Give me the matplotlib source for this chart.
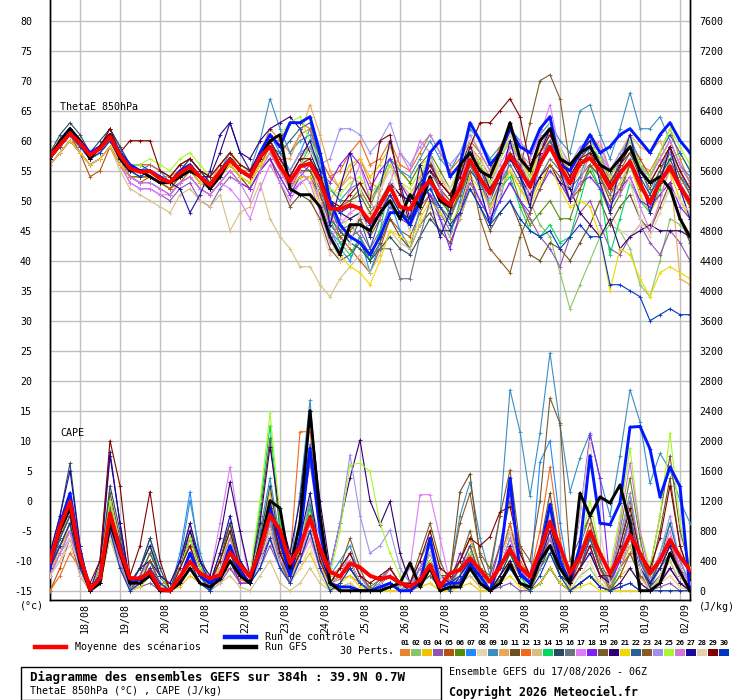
import numpy as np
import matplotlib
matplotlib.use("Agg")
import matplotlib.pyplot as plt
from matplotlib.lines import Line2D
from matplotlib.patches import Rectangle

plt.rcParams['font.family'] = ['DejaVu Sans Mono', 'DejaVu Sans']

# ---------------- data ----------------
step_hours = 6
n_steps = 65
date_labels = ['18/08', '19/08', '20/08', '21/08', '22/08', '23/08', '24/08', '25/08',
               '26/08', '27/08', '28/08', '29/08', '30/08', '31/08', '01/09', '02/09']
left_ticks = list(range(-15, 81, 5))
right_ticks = list(range(0, 7601, 400))

mean_theta = [57.3,59.3,61.2,59.6,57.6, 58.7,60.7,57.6,55.4,54.8, 54.9,53.7,53.1,54.6,55.7,
              54.0,52.6,54.8,56.8,55.1, 54.0,57.3,59.0,55.7,53.2, 55.7,56.2,53.2,48.7,48.6,
              49.3,48.7,46.5,49.3,52.3, 49.0,48.6,51.5,53.4,50.7, 49.3,52.1,56.8,53.7,51.2,
              54.6,57.6,55.1,52.3,56.2, 59.0,55.7,52.9,56.2,57.1, 55.1,52.1,54.6,56.5,52.9,
              49.6,53.1,55.7,52.3,49.8]
ctrl_theta = [57,60,62,60,58, 59,61,58,56,55, 55,54,53,55,56, 54,52,55,57,55, 54,58,61,59,63,
              63,64,58,50,46, 44,43,41,44,48, 48,46,50,58,60, 54,56,63,60,56, 58,62,59,58,62,
              64,56,55,58,61, 58,59,61,62,60, 58,61,63,60,58]
gfs_theta = [57,60,62,60,57, 59,61,57,55,55, 54,53,53,54,55, 54,52,54,57,55, 54,57,60,61,52,
             51,51,49,44,41, 46,46,45,48,50, 47,51,49,54,50, 49,56,58,55,54, 58,63,57,55,60,
             62,57,56,58,59, 56,55,57,59,55, 53,54,52,47,44]

mean_cape = [387,853,1187,453, 20,165,1030,543, 165,165,253,20, 0,187,387,232, 165,209,507,343,
             187,543,1009,809, 365,587,965,565, 254,187,365,310, 200,152,187,107, 53,143,343,53,
             232,276,432,276, 120,320,552,320, 187,543,920,587, 232,454,787,498, 232,454,743,498,
             232,409,676,454, 276]
ctrl_cape = [300,900,1300,500, 0,200,1000,600, 100,150,250,0, 0,150,500,200, 100,200,600,250,
             100,500,1100,700, 200,700,1900,800, 100,50,50,0, 0,50,100,0, 0,100,700,50,
             100,100,350,200, 0,400,1500,230, 100,500,1150,400, 100,600,1800,900, 880,1170,2180,2190,
             1890,1250,1650,1390, 0]
gfs_cape = [400,800,1100,400, 0,100,900,500, 100,100,200,0, 0,100,300,100, 50,150,400,200,
            100,600,1200,1100, 300,900,2400,1000, 100,0,0,0, 0,0,50,100, 370,50,300,0,
            50,50,300,100, 0,100,350,100, 50,400,600,300, 100,1300,1000,1250, 1170,1410,900,0,
            0,100,500,250, 0]

th01 = [58,60,62,60,58, 59,61,58,56,55, 55,54,54,55,57, 55,53,56,58,55, 55,58,62,60,58, 61,62,57,54,52, 55,57,53,52,56, 53,50,54,56,52, 50,54,59,57,54, 57,61,58,55,59, 62,58,55,57,60, 58,53,56,59,56, 55,58,62,57,53]
th02 = [57,59,61,59,57, 58,60,57,55,54, 54,53,52,54,55, 53,52,54,56,54, 53,56,58,55,52, 55,55,52,48,46, 47,48,45,48,51, 48,47,51,53,50, 48,51,56,53,49, 53,55,52,50,46, 44,38,32,36,40, 44,46,45,42,36, 34,40,47,46,44]
th03 = [56,58,60,59,57, 58,60,56,54,54, 54,53,52,54,56, 54,52,54,56,54, 52,55,60,57,54, 57,59,55,50,53, 56,57,54,56,59, 55,53,56,57,53, 51,55,60,58,55, 58,60,57,54,59, 61,57,53,55,57, 54,51,53,56,51, 48,51,55,50,47]
th04 = [56,58,60,58,56, 57,59,56,53,52, 52,51,50,52,53, 50,49,52,54,53, 52,55,57,54,51, 53,54,50,45,43, 44,45,42,45,49, 47,46,49,51,48, 45,48,53,50,47, 50,53,50,47,44, 42,39,44,48,50, 46,42,41,44,46, 43,41,45,43,40]
th05 = [57,60,61,58,54, 55,59,56,54,53, 54,53,52,53,55, 53,52,54,56,54, 53,56,59,56,53, 56,57,54,48,44, 42,40,38,42,47, 45,44,48,51,49, 47,52,58,56,53, 57,60,57,54,57, 60,57,54,57,59, 57,54,57,60,57, 54,57,60,56,53]
th06 = [57,59,61,59,57, 58,61,58,55,55, 55,54,53,55,56, 54,53,55,57,55, 54,57,60,57,55, 58,59,56,52,50, 50,52,49,53,57, 55,53,56,58,55, 52,55,58,55,52, 53,55,50,46,48, 50,47,47,52,55, 52,48,51,56,52, 50,54,58,54,52]
th07 = [57,59,61,60,58, 59,61,58,56,55, 56,55,53,55,57, 55,53,55,58,56, 55,58,61,58,55, 58,62,56,45,42, 40,44,38,43,50, 45,42,49,53,47, 44,50,56,52,46, 50,57,55,49,56, 60,55,50,54,59, 57,52,57,61,56, 51,55,59,55,51]
th08 = [57,60,62,60,58, 59,61,57,55,54, 54,53,52,54,55, 53,52,54,56,54, 53,55,57,54,51, 54,51,46,41,44, 48,52,47,51,56, 52,48,54,57,52, 50,55,62,58,52, 57,61,58,53,57, 60,57,55,58,57, 54,48,45,44,46, 46,49,52,50,48]
th09 = [58,60,62,60,58, 59,62,59,56,56, 56,55,54,56,57, 55,54,56,58,56, 55,60,67,62,58, 60,61,56,52,50, 52,53,50,53,57, 55,54,57,60,57, 55,58,62,60,57, 59,62,60,57,61, 63,60,58,65,66, 61,57,62,68,62, 62,64,60,56,54]
th10 = [57,59,61,60,58, 59,61,58,55,55, 55,54,53,55,56, 54,53,55,57,55, 54,57,59,57,57, 61,66,61,55,52, 54,53,50,52,56, 53,51,54,57,54, 51,54,59,56,53, 57,60,56,53,58, 61,58,55,58,61, 59,55,58,61,59, 58,60,56,37,36]
th11 = [57,59,61,59,57, 58,60,57,54,54, 54,53,52,54,55, 53,52,54,56,54, 52,55,57,53,49, 51,50,47,42,40, 41,43,40,43,47, 44,42,46,48,45, 43,47,52,49,45, 48,50,46,41,40, 43,42,40,43,46, 50,46,49,51,47, 45,49,53,47,43]
th12 = [57,60,62,60,58, 59,62,58,56,56, 56,55,54,56,57, 55,54,56,58,56, 55,58,60,60,63, 63,62,57,54,55, 58,60,56,57,60, 56,55,58,61,58, 55,57,60,58,55, 59,62,58,55,58, 60,57,55,58,59, 56,53,56,59,55, 53,56,59,55,52]
th13 = [56,58,60,58,56, 57,59,55,52,51, 50,49,48,51,52, 50,49,51,45,48, 49,53,47,44,42, 39,39,36,34,37, 39,41,38,41,45, 43,42,46,49,47, 44,47,52,50,47, 51,55,53,50,54, 57,55,52,55,56, 54,50,53,56,52, 50,53,56,52,49]
th14 = [57,59,61,59,57, 58,60,57,55,54, 55,54,53,55,56, 54,53,55,57,55, 54,57,59,56,53, 56,59,55,47,43, 41,44,40,45,53, 49,45,52,57,52, 47,51,58,55,49, 52,54,49,45,44, 46,43,44,50,56, 52,41,47,53,50, 48,52,57,58,55]
th15 = [58,61,63,61,58, 60,62,59,56,56, 55,54,53,55,57, 55,53,55,57,55, 54,57,60,56,52, 54,54,51,47,45, 43,42,40,42,44, 42,41,44,47,45, 45,49,55,53,50, 54,57,55,52,56, 59,56,53,56,58, 55,52,56,58,54, 51,54,57,53,50]
th16 = [57,59,61,59,57, 58,60,57,55,54, 54,53,53,55,56, 54,53,55,57,55, 54,57,59,56,53, 56,55,52,47,45, 46,44,41,42,42, 37,37,44,50,49, 47,51,56,53,49, 53,56,53,50,54, 57,55,52,54,56, 54,51,54,57,53, 50,53,56,52,50]
th17 = [56,58,60,58,56, 57,59,56,53,52, 52,51,51,53,54, 52,51,53,52,50, 47,52,56,53,50, 53,54,50,47,46, 48,49,46,48,51, 49,47,52,55,53, 51,54,58,55,53, 56,59,60,57,61, 66,58,54,57,60, 58,54,57,60,56, 54,57,60,56,53]
th18 = [56,58,60,58,56, 57,59,56,54,53, 53,52,51,53,54, 52,51,53,55,53, 52,55,57,54,51, 54,56,55,53,56, 58,56,52,55,57, 53,50,53,51,47, 42,48,54,50,47, 50,53,50,48,52, 55,53,50,53,54, 52,49,52,54,50, 49,51,53,49,47]
th19 = [57,59,61,59,57, 58,60,57,55,55, 55,54,53,55,56, 54,53,55,57,55, 54,57,59,56,53, 56,57,54,50,49, 50,51,48,50,53, 51,50,53,55,52, 50,53,57,54,52, 55,58,55,63,70, 71,67,56,56,58, 55,52,55,58,55, 52,55,58,54,51]
th20 = [57,59,61,59,57, 58,60,57,55,55, 55,54,53,55,56, 54,54,58,63,58, 57,60,62,63,64, 62,58,54,50,48, 47,48,46,49,53, 51,50,53,55,53, 51,54,58,56,52, 55,57,54,51,54, 56,53,52,48,46, 44,47,42,44,45, 46,45,45,45,44]
th21 = [56,58,60,58,56, 57,59,56,54,54, 54,53,52,54,55, 53,52,54,56,54, 53,56,58,55,52, 54,54,49,44,41, 39,38,36,40,45, 44,43,47,50,48, 46,49,54,52,49, 52,55,52,49,53, 56,52,49,50,49, 44,35,42,41,37, 34,38,39,38,37]
th22 = [57,59,61,60,58, 59,61,58,55,55, 55,54,53,55,56, 54,53,55,57,55, 54,57,59,58,60, 62,63,57,49,45, 43,47,42,47,53, 49,46,53,57,52, 48,53,59,56,50, 55,58,56,53,57, 60,57,54,57,59, 57,54,57,60,56, 54,58,61,58,55]
th23 = [57,59,61,59,57, 58,60,57,54,54, 54,53,52,54,56, 54,53,55,57,55, 54,57,59,56,52, 55,55,51,46,44, 45,47,44,47,51, 48,47,51,54,50, 48,51,55,47,42, 40,38,44,48,52, 56,54,50,52,56, 54,50,52,56,52, 50,53,55,52,49]
th24 = [57,59,61,59,57, 58,60,57,55,55, 55,54,53,55,56, 54,53,55,57,55, 54,57,59,57,55, 58,59,56,57,62, 62,61,58,60,63, 58,56,59,61,58, 56,58,61,58,55, 57,60,58,56,59, 62,59,56,59,60, 58,55,58,60,56, 53,56,58,55,52]
th25 = [58,60,62,60,58, 59,61,58,56,56, 57,56,55,57,58, 56,54,56,58,56, 55,58,60,61,63, 64,60,57,52,51, 53,54,51,53,56, 53,52,55,57,54, 52,55,59,56,53, 57,60,57,54,58, 61,58,55,58,60, 57,54,57,60,56, 54,58,62,59,56]
th26 = [57,59,61,59,57, 58,60,57,54,53, 53,52,51,53,54, 52,51,53,55,53, 50,55,58,55,52, 55,53,48,43,47, 52,56,50,47,53, 58,55,60,58,52, 49,53,59,55,48, 52,59,57,50,56, 62,57,50,53,58, 60,55,51,54,49, 45,50,56,53,50]
th27 = [57,60,61,60,58, 59,61,57,55,55, 55,54,53,52,48, 51,55,61,63,58, 55,58,60,57,54, 57,60,55,46,52, 58,50,44,52,60, 53,47,56,50,44, 48,55,60,52,46, 53,60,54,49,58, 62,55,50,58,60, 53,48,56,61,54, 48,53,59,52,47]
th28 = [57,59,61,59,57, 58,60,57,55,55, 55,54,53,55,56, 54,53,55,57,55, 54,57,60,57,53, 56,58,50,44,40, 43,48,45,52,55, 49,45,50,57,54, 52,56,60,55,50, 57,62,58,52,59, 63,59,55,57,58, 56,53,56,53,47, 44,48,52,50,48]
th29 = [58,60,62,60,58, 59,62,58,60,60, 60,55,54,56,57, 55,54,56,58,56, 55,58,60,57,54, 57,57,54,50,49, 51,53,50,60,61, 52,46,52,56,53, 51,54,59,63,63, 65,67,64,56,58, 61,57,54,57,58, 56,53,56,59,55, 53,56,59,55,52]
th30 = [57,59,61,59,57, 58,60,57,55,54, 55,54,53,55,56, 54,53,55,57,55, 54,57,59,56,53, 56,56,53,49,48, 49,49,46,48,51, 48,47,50,52,49, 46,48,52,49,46, 48,50,47,45,44, 45,42,44,46,44, 44,36,36,35,34, 30,31,32,31,31]

cape01 = [300,700,1100,400, 0,150,900,450, 50,150,300,100, 0,150,400,200, 100,200,300,150, 100,500,900,600, 200,400,700,300, 100,150,200,100, 0,50,100,50, 0,100,300,100, 50,300,600,200, 0,200,400,200, 100,400,800,300, 50,300,500,200, 100,500,900,400, 100,300,600,300, 100]
cape02 = [400,900,1200,300, 0,100,1000,500, 0,100,200,50, 0,100,300,100, 0,300,600,200, 100,600,1200,500, 100,500,900,400, 50,100,300,100, 0,100,200,50, 0,200,400,100, 0,100,200,50, 0,300,500,200, 50,500,1000,300, 0,200,300,100, 0,300,600,200, 0,200,400,100, 50]
cape03 = [200,600,900,300, 0,100,800,300, 100,300,600,200, 0,50,200,100, 0,400,700,300, 200,800,1300,600, 100,300,500,200, 0,50,100,0, 0,0,0,0, 0,100,200,50, 0,50,100,0, 0,150,300,100, 0,400,700,200, 0,100,200,100, 0,200,300,100, 0,100,200,50, 0]
cape04 = [300,600,800,200, 0,200,1200,600, 0,50,100,0, 0,200,500,200, 0,100,300,100, 100,300,600,300, 200,900,1700,800, 100,200,300,100, 0,50,100,0, 0,100,200,50, 0,150,300,100, 0,50,100,0, 0,100,300,100, 0,100,200,50, 0,50,100,0, 0,50,100,0, 0]
cape05 = [0,300,700,200, 0,150,1100,500, 0,100,200,100, 0,300,600,200, 50,200,400,100, 100,400,800,400, 100,600,1200,500, 100,200,400,100, 0,50,100,0, 0,100,300,100, 0,200,500,200, 0,200,400,100, 0,300,600,200, 100,500,900,300, 50,300,500,200, 50,400,700,200, 100]
cape06 = [300,700,1000,300, 0,100,900,400, 0,200,400,100, 0,100,300,100, 0,200,500,200, 100,500,1000,500, 200,400,800,300, 100,300,500,200, 50,150,300,100, 0,100,200,50, 100,400,700,300, 0,150,300,100, 50,300,500,200, 100,300,600,200, 100,800,1500,700, 100,400,700,300, 100]
cape07 = [400,900,1300,500, 0,200,1100,600, 0,200,500,200, 0,500,1320,400, 0,300,600,200, 100,500,1000,400, 200,1000,1950,800, 100,300,500,200, 0,100,200,100, 0,300,600,200, 50,200,400,150, 0,400,800,300, 100,1720,2000,900, 100,400,700,300, 100,500,900,400, 50,300,500,200, 50]
cape08 = [200,400,600,200, 0,100,800,400, 0,50,200,50, 0,300,600,300, 100,500,900,300, 100,400,700,300, 100,300,600,200, 0,100,300,100, 0,50,100,0, 0,400,800,300, 0,100,300,100, 0,100,300,100, 100,500,900,400, 0,200,400,100, 0,100,300,100, 0,100,200,50, 0]
cape09 = [300,800,1100,400, 0,200,1000,500, 50,300,700,200, 0,400,1200,500, 100,400,800,300, 200,800,1500,700, 300,1300,2540,1000, 200,400,600,200, 0,150,300,100, 100,400,700,200, 200,1000,1450,700, 200,1000,2680,2120, 1260,2100,3170,2210, 1320,1770,2100,1500, 1000,1800,2680,2250, 1430,1830,1610,1200, 900]
cape10 = [200,600,900,300, 0,200,800,400, 0,100,300,100, 0,200,500,200, 0,200,400,100, 100,400,700,300, 200,600,1100,400, 100,200,300,100, 0,100,200,50, 0,200,400,100, 100,400,700,300, 0,300,600,200, 100,400,700,300, 50,300,500,200, 0,300,600,200, 0,150,300,100, 0]
cape11 = [300,700,1000,400, 0,300,1300,700, 100,300,600,200, 0,300,700,300, 100,500,900,400, 200,1000,2030,800, 200,600,1200,400, 100,200,400,100, 0,100,200,50, 0,200,500,200, 200,1320,1560,450, 100,400,900,300, 100,600,1300,500, 100,300,600,200, 100,500,1000,400, 200,800,1500,600, 200]
cape12 = [0,200,500,300, 0,200,1000,500, 0,100,300,100, 100,400,900,300, 0,300,500,200, 200,600,1200,600, 400,2120,2120,900, 200,300,400,100, 0,100,300,100, 0,200,500,200, 100,300,600,200, 100,400,900,400, 200,800,1650,700, 100,400,800,300, 200,500,1000,400, 100,300,600,200, 100]
cape13 = [200,500,800,300, 0,100,900,400, 0,50,200,50, 0,100,300,100, 0,100,200,50, 0,200,400,100, 0,100,300,100, 0,50,100,0, 0,0,0,0, 0,50,100,0, 0,100,200,50, 0,300,600,200, 100,500,900,400, 100,300,600,200, 0,200,500,200, 0,200,400,100, 50]
cape14 = [400,800,1200,500, 0,200,1100,500, 0,200,500,200, 0,300,600,200, 0,300,700,300, 200,1100,2200,900, 200,500,1100,500, 100,200,400,100, 0,100,200,50, 0,100,300,100, 0,200,400,100, 0,200,500,200, 0,100,300,100, 0,100,200,50, 0,300,700,300, 100,500,900,400, 100]
cape15 = [500,1000,1700,600, 0,300,1400,800, 100,300,700,300, 0,400,800,300, 100,400,900,300, 100,700,1400,600, 200,500,1000,400, 100,200,300,100, 0,50,100,0, 0,100,300,100, 0,200,400,200, 0,200,500,200, 100,300,600,200, 100,300,700,300, 100,400,800,300, 50,200,500,200, 50]
cape16 = [300,600,900,300, 0,100,700,300, 0,100,300,100, 0,200,500,200, 0,200,500,200, 100,500,900,400, 100,400,800,300, 100,200,300,100, 0,0,100,0, 0,100,200,50, 100,300,500,200, 100,400,800,300, 100,300,700,300, 200,600,1000,400, 100,600,1200,500, 100,300,500,200, 0]
cape17 = [200,400,700,300, 0,100,800,400, 0,200,400,100, 0,300,600,200, 200,900,1650,800, 100,500,900,400, 100,400,700,300, 100,200,400,100, 0,100,300,100, 300,1280,1280,700, 100,300,500,200, 0,400,800,300, 100,500,1000,400, 100,300,600,200, 100,500,900,400, 100,400,700,300, 100]
cape18 = [200,500,800,300, 0,100,900,400, 0,100,300,100, 0,200,400,100, 0,200,400,100, 100,400,700,300, 100,500,900,400, 100,200,300,100, 0,100,200,50, 0,200,400,200, 100,500,300,100, 100,600,1300,500, 200,400,700,300, 200,1000,2080,1500, 100,400,800,300, 0,100,300,100, 0]
cape19 = [300,700,1000,400, 0,200,1100,500, 0,200,500,200, 0,300,700,300, 100,400,800,300, 100,600,1100,500, 200,600,1200,500, 100,300,700,300, 0,100,300,100, 100,500,900,400, 100,400,800,300, 200,600,1200,600, 400,1200,2570,2230, 400,700,1000,500, 200,700,1300,500, 300,1000,1800,800, 300]
cape20 = [300,800,1100,500, 0,300,1800,900, 100,300,400,200, 0,300,800,400, 200,700,1450,800, 200,900,1920,1000, 500,1200,2390,1200, 300,900,1500,2010, 1200,880,1190,500, 100,300,600,200, 100,200,500,200, 0,200,400,100, 0,100,300,100, 0,100,200,50, 0,100,300,100, 0,100,300,100, 0]
cape21 = [200,500,900,300, 0,100,700,300, 0,50,200,50, 0,200,400,100, 0,300,600,200, 100,400,800,300, 100,500,1000,400, 0,100,200,50, 0,0,0,0, 0,50,100,0, 0,100,300,100, 0,100,200,50, 0,100,300,100, 0,50,100,0, 0,0,0,0, 0,0,0,0, 0]
cape22 = [300,700,1000,400, 0,200,1000,500, 0,100,400,100, 0,300,600,200, 0,200,500,200, 100,500,1000,400, 200,600,1200,500, 100,200,400,100, 0,100,200,50, 0,200,400,100, 100,300,600,200, 100,300,700,300, 100,400,900,300, 100,300,700,300, 100,500,1000,400, 100,400,900,400, 100]
cape23 = [300,600,900,300, 0,200,1000,400, 0,100,400,100, 0,200,500,200, 100,300,600,200, 100,400,900,400, 100,500,1000,400, 100,200,300,100, 0,100,200,100, 0,100,300,100, 200,900,1300,500, 300,1000,1610,600, 100,400,700,300, 100,400,800,300, 0,200,500,200, 100,300,600,200, 50]
cape24 = [200,500,700,300, 0,100,800,400, 0,100,300,100, 0,200,500,200, 100,300,600,200, 100,500,900,400, 200,600,1200,700, 300,900,1810,1000, 500,600,810,300, 100,200,500,200, 100,200,400,100, 100,300,600,200, 100,300,700,300, 100,300,500,200, 200,700,1300,500, 200,500,1000,400, 100]
cape25 = [400,800,1100,400, 0,300,1200,600, 100,300,600,200, 0,300,700,300, 100,400,800,300, 200,1200,2370,1000, 200,600,1300,500, 200,800,1680,1700, 1590,900,500,200, 0,200,400,100, 100,200,500,200, 100,400,800,300, 200,500,1000,400, 200,600,1200,500, 300,1000,1900,800, 300,1000,2100,900, 300]
cape26 = [200,500,800,300, 0,100,900,400, 0,100,300,100, 0,200,500,200, 100,300,700,300, 100,400,800,300, 100,400,900,400, 100,200,500,200, 0,100,300,100, 100,300,600,200, 100,200,400,100, 100,300,700,300, 100,400,800,300, 100,300,600,200, 200,900,1700,800, 200,400,800,300, 100]
cape27 = [500,1000,1600,600, 0,400,1850,900, 100,300,600,200, 100,400,900,400, 100,500,1000,400, 200,600,1200,500, 200,700,1300,500, 100,200,400,100, 0,100,200,100, 0,200,500,200, 100,200,400,100, 100,300,600,200, 100,400,800,300, 100,300,500,200, 100,300,700,300, 100,300,600,200, 50]
cape28 = [200,400,700,300, 0,100,700,300, 0,100,300,100, 0,300,600,200, 100,300,600,200, 100,400,800,300, 100,500,900,400, 100,200,400,100, 0,100,200,50, 0,200,500,200, 50,200,300,100, 100,400,800,300, 200,500,1000,500, 300,1000,2000,800, 100,300,700,300, 0,200,500,200, 0]
cape29 = [400,800,1100,500, 100,400,2000,1400, 200,600,1320,400, 0,300,600,200, 100,400,800,300, 100,600,1100,500, 200,500,1000,400, 100,300,500,200, 100,200,300,100, 100,400,800,300, 200,400,700,600, 720,1050,1120,500, 200,500,900,400, 100,300,600,200, 200,600,1100,500, 300,700,1400,600, 200]
cape30 = [300,600,900,300, 0,100,800,300, 0,100,300,100, 0,200,400,100, 0,200,500,200, 100,300,700,300, 100,400,800,300, 0,100,300,100, 0,50,100,0, 0,100,300,100, 0,200,400,100, 0,100,300,100, 0,200,500,200, 0,100,200,50, 0,50,100,0, 0,0,0,0, 0]

pert_colors = ['#e8832f', '#8ac46a', '#f2c200', '#8b55b0', '#b4520e', '#5a8a0a', '#1e8cff',
               '#e6d6b0', '#3a8fc0', '#e8a855', '#6b5020', '#f06a1e', '#d4c080', '#00d860',
               '#284a60', '#687480', '#e07cf8', '#8020f8', '#7a5c2c', '#300070', '#f0d800',
               '#2a6098', '#8c5a20', '#a090f0', '#a8f830', '#d478d8', '#1c0aa0', '#e2d0b0',
               '#800000', '#0036c0']

theta_members = [th01, th02, th03, th04, th05, th06, th07, th08, th09, th10, th11, th12, th13, th14, th15,
                 th16, th17, th18, th19, th20, th21, th22, th23, th24, th25, th26, th27, th28, th29, th30]
cape_members = [cape01, cape02, cape03, cape04, cape05, cape06, cape07, cape08, cape09, cape10,
                cape11, cape12, cape13, cape14, cape15, cape16, cape17, cape18, cape19, cape20,
                cape21, cape22, cape23, cape24, cape25, cape26, cape27, cape28, cape29, cape30]

# ---------------- figure ----------------
W, H = 740, 700
fig = plt.figure(figsize=(W / 100, H / 100), dpi=100)
fig.patch.set_facecolor('white')

def fx(px):
    return px / W

def fy(py):
    return 1 - py / H

ax = fig.add_axes([fx(50), fy(600), fx(640), 600 / H])
ax2 = ax.twinx()

hours = np.arange(n_steps) * step_hours
theta_lo, theta_hi = -16.55, 83.45
ax.set_xlim(0, hours[-1])
ax.set_ylim(theta_lo, theta_hi)
ax2.set_ylim((theta_lo + 15) * 80, (theta_hi + 15) * 80)

mk = dict(marker='+', ms=3.5, mew=0.6)
for th, cp, col in zip(theta_members, cape_members, pert_colors):
    ax.plot(hours, th, color=col, lw=0.8, zorder=3, **mk)
    ax2.plot(hours, cp, color=col, lw=0.8, zorder=3, **mk)

ax.plot(hours, ctrl_theta, color='#0018ff', lw=2.1, zorder=4, **mk)
ax.plot(hours, gfs_theta, color='black', lw=2.1, zorder=4, **mk)
ax.plot(hours, mean_theta, color='#ff0000', lw=2.8, zorder=5, **mk)
ax2.plot(hours, ctrl_cape, color='#0018ff', lw=2.1, zorder=4, **mk)
ax2.plot(hours, gfs_cape, color='black', lw=2.1, zorder=4, **mk)
ax2.plot(hours, mean_cape, color='#ff0000', lw=2.8, zorder=5, **mk)

# ticks & grid
day_ticks = 18 + 24 * np.arange(len(date_labels))
ax.set_xticks(day_ticks)
ax.set_xticklabels(date_labels, rotation=90, ha='left', va='top', fontsize=7.2)
ax.set_yticks(left_ticks)
ax.set_yticklabels([str(v) for v in left_ticks], fontsize=7.2)
ax2.set_yticks(right_ticks)
ax2.set_yticklabels([str(v) for v in right_ticks], fontsize=7.2)
ax.tick_params(axis='x', length=0, pad=2)
ax.tick_params(axis='y', length=0, pad=13)
ax2.tick_params(axis='y', length=0, pad=7)
ax.grid(True, color='#c0c0c0', lw=1.0)
ax.set_axisbelow(True)
for a in (ax, ax2):
    a.spines['top'].set_visible(False)
    for s in ('left', 'right', 'bottom'):
        a.spines[s].set_linewidth(1.0)
        a.spines[s].set_color('black')

ax.text(6, 65.6, 'ThetaE 850hPa', fontsize=7.2, va='center', ha='left', zorder=6)
ax.text(6, 11.3, 'CAPE', fontsize=7.2, va='center', ha='left', zorder=6)

fig.text(fx(20), fy(606), '(°c)', fontsize=7.2, va='center', ha='left')
fig.text(fx(699), fy(607), '(J/kg)', fontsize=7.2, va='center', ha='left')

# legend
fig.add_artist(Line2D([fx(35), fx(66)], [fy(647), fy(647)], color='#ff0000', lw=3.2))
fig.text(fx(75), fy(647), 'Moyenne des scénarios', fontsize=7.2, va='center', ha='left')
fig.add_artist(Line2D([fx(225), fx(256)], [fy(637), fy(637)], color='#0018ff', lw=3.2))
fig.text(fx(265), fy(637), 'Run de contrôle', fontsize=7.2, va='center', ha='left')
fig.add_artist(Line2D([fx(225), fx(256)], [fy(647), fy(647)], color='black', lw=3.2))
fig.text(fx(265), fy(647), 'Run GFS', fontsize=7.2, va='center', ha='left')
fig.text(fx(340), fy(651), '30 Perts.', fontsize=7.2, va='center', ha='left')
for k, col in enumerate(pert_colors):
    x0 = 400 + 11 * k
    fig.add_artist(Rectangle((fx(x0), fy(656)), fx(10), 7 / H, facecolor=col, edgecolor='none'))
    fig.text(fx(x0 + 5), fy(643), '%02d' % (k + 1), fontsize=5.3, fontweight='bold',
             va='center', ha='center')

# info box
fig.add_artist(Rectangle((fx(20.5), fy(699.5)), fx(420), 32.5 / H, facecolor='none',
                         edgecolor='black', lw=1.0))
fig.text(fx(30), fy(677), 'Diagramme des ensembles GEFS sur 384h : 39.9N 0.7W', fontsize=9.0,
         fontweight='bold', va='center', ha='left')
fig.text(fx(30), fy(691), 'ThetaE 850hPa (°C) , CAPE (J/kg)', fontsize=7.2, va='center', ha='left')
fig.text(fx(449), fy(672), 'Ensemble GEFS du 17/08/2026 - 06Z', fontsize=7.2, va='center', ha='left')
fig.text(fx(449), fy(692), 'Copyright 2026 Meteociel.fr', fontsize=8.4, fontweight='bold',
         va='center', ha='left')

fig.savefig('out.png', dpi=100, facecolor='white')
